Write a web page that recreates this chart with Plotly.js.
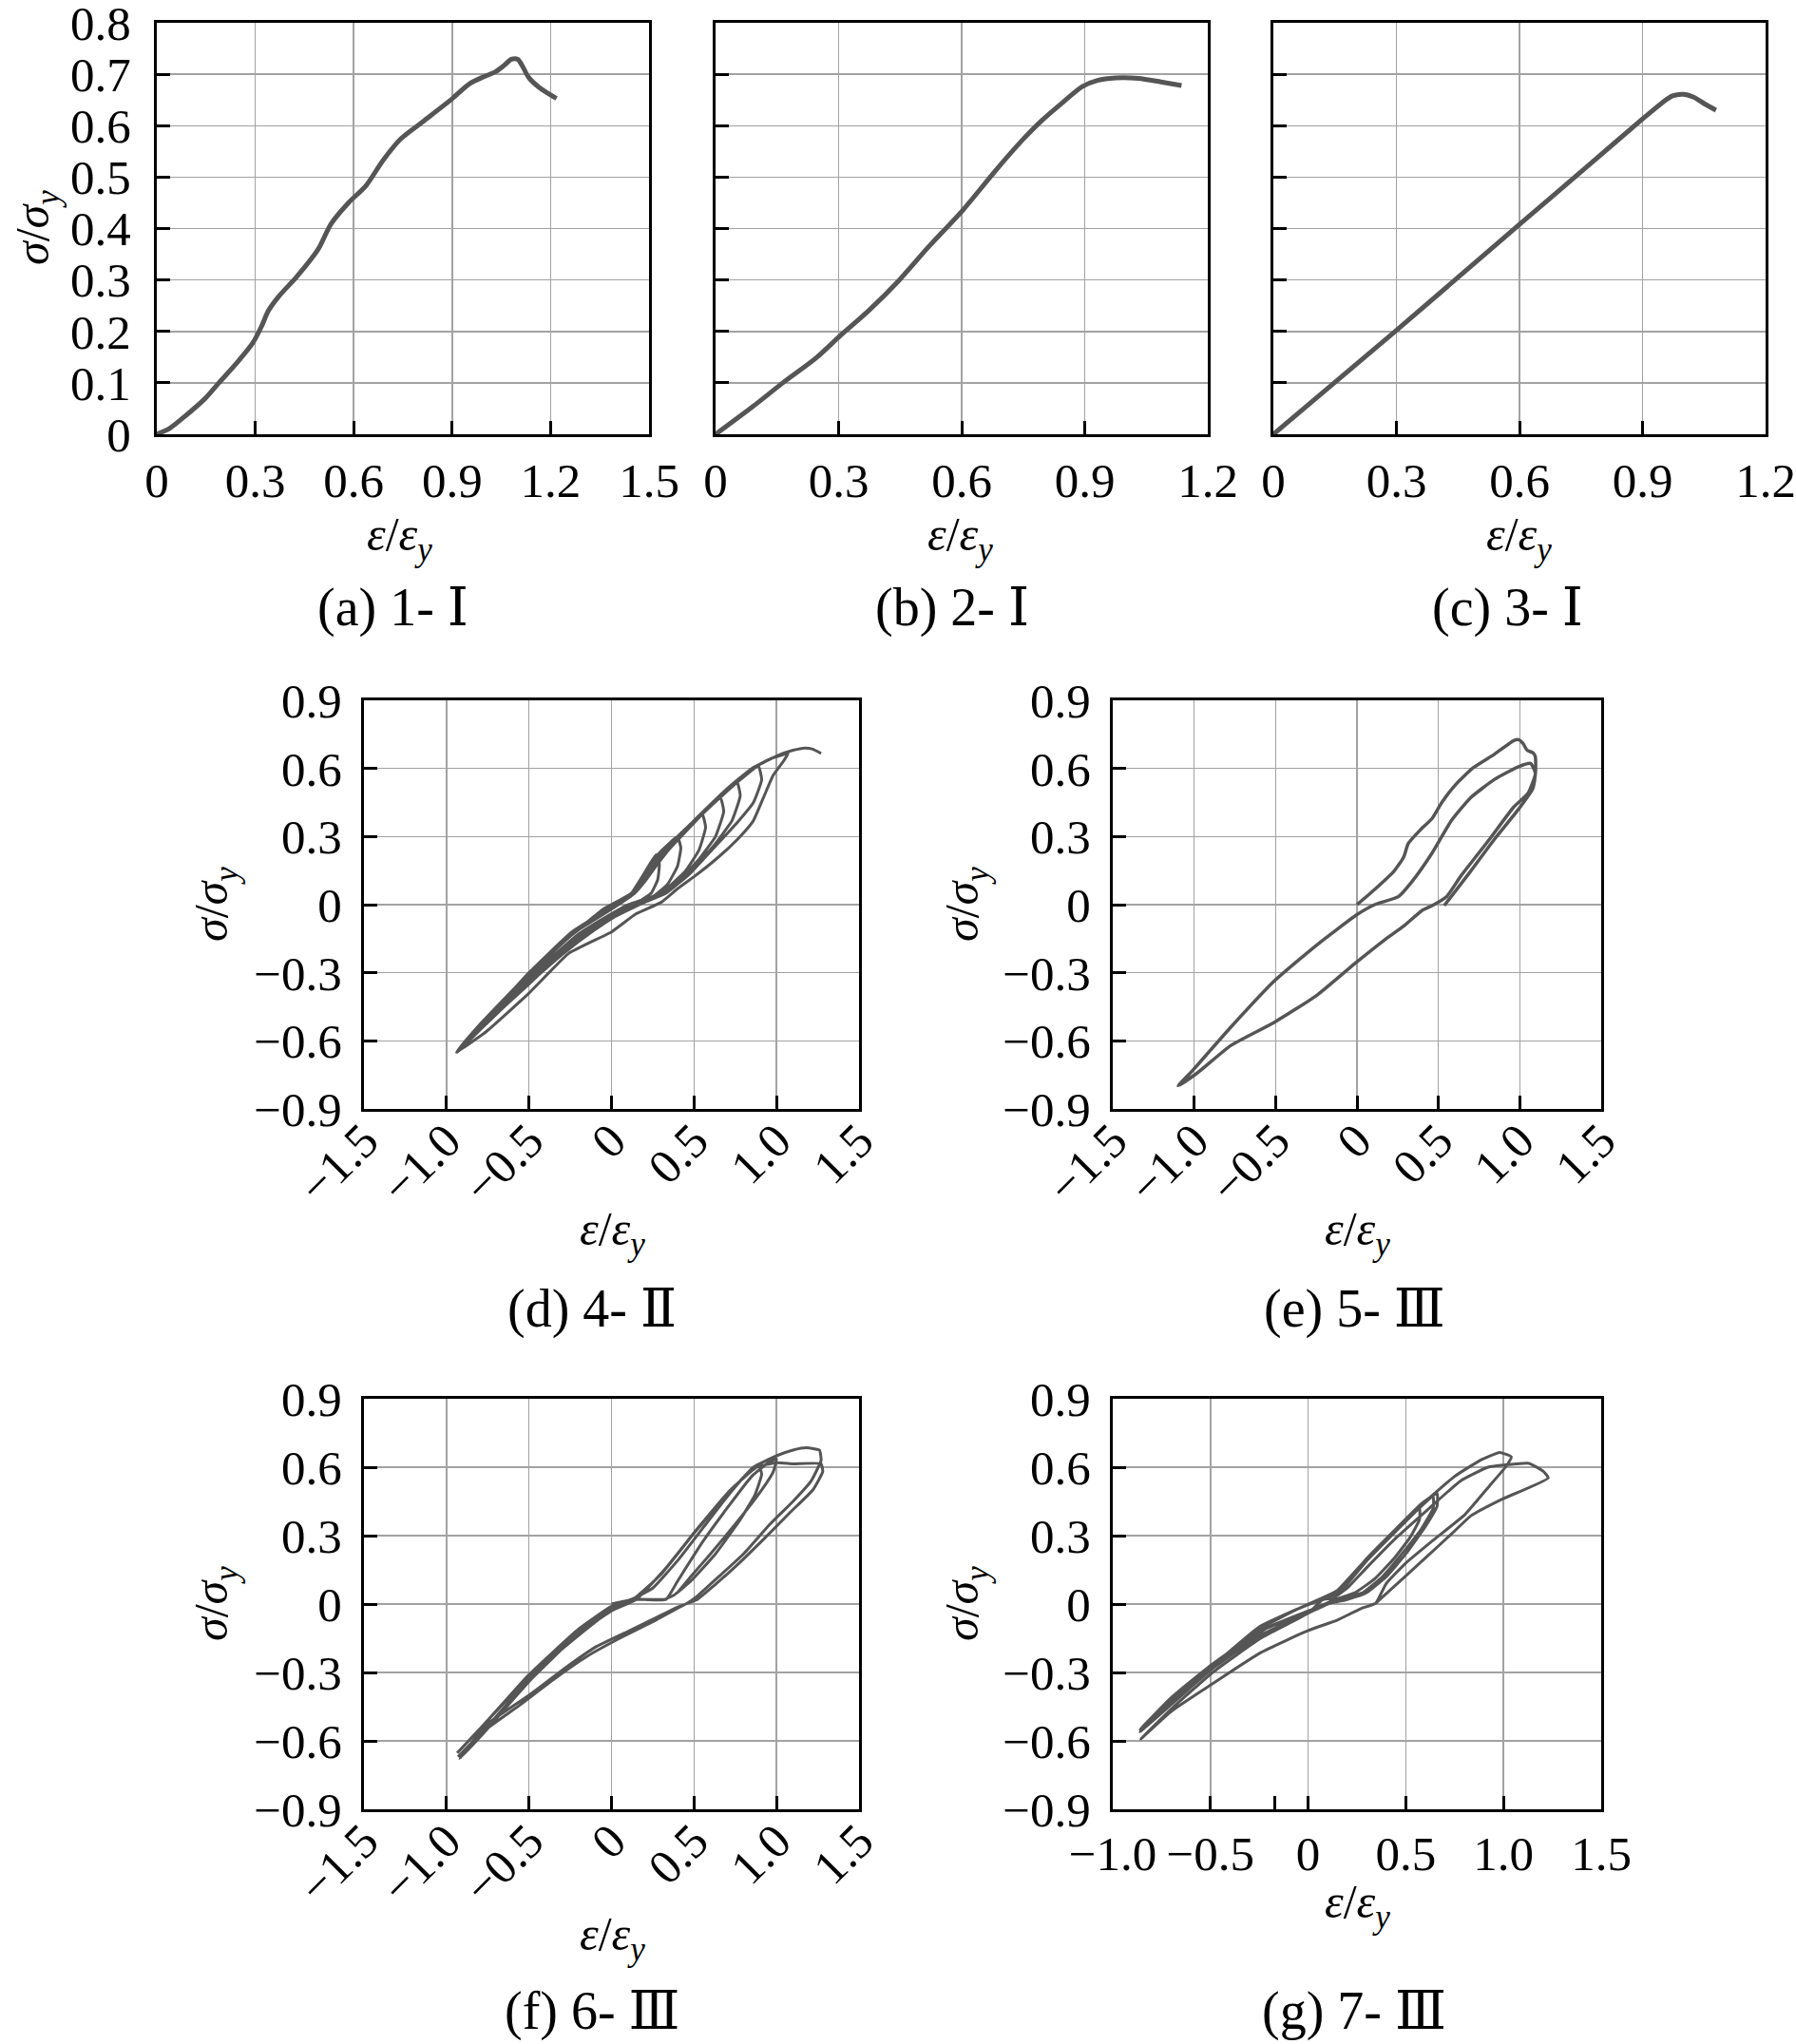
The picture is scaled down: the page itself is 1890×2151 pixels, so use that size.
<!DOCTYPE html>
<html>
<head>
<meta charset="utf-8">
<script src="https://cdn.plot.ly/plotly-3.0.1.min.js"></script>
<style>html,body{margin:0;padding:0;background:#fff;}#chart{width:1890px;height:2151px;}</style>
</head>
<body>
<div id="chart"></div>
<script>
// ---------- data ----------
const a_x = [0, 0.04, 0.082, 0.148, 0.188, 0.240, 0.293, 0.320, 0.340, 0.373, 0.426, 0.492, 0.531, 0.584, 0.637, 0.690, 0.743, 0.809, 0.901, 0.954, 1.000, 1.033, 1.060, 1.080, 1.100, 1.115, 1.133, 1.166, 1.218];
const a_y = [0, 0.012, 0.033, 0.070, 0.099, 0.136, 0.178, 0.211, 0.240, 0.269, 0.306, 0.360, 0.409, 0.450, 0.483, 0.533, 0.574, 0.607, 0.653, 0.682, 0.696, 0.705, 0.718, 0.729, 0.729, 0.715, 0.694, 0.674, 0.653];

const b_x = [0, 0.091, 0.164, 0.246, 0.303, 0.374, 0.447, 0.520, 0.602, 0.684, 0.748, 0.794, 0.849, 0.894, 0.931, 0.976, 1.031, 1.086, 1.136];
const b_y = [0, 0.054, 0.100, 0.149, 0.191, 0.241, 0.299, 0.365, 0.435, 0.514, 0.572, 0.609, 0.647, 0.676, 0.688, 0.693, 0.692, 0.685, 0.678];

const c_x = [0, 0.3, 0.6, 0.770, 0.9, 0.947, 0.973, 1.0, 1.026, 1.052, 1.079];
const c_y = [0, 0.202, 0.408, 0.524, 0.613, 0.644, 0.658, 0.661, 0.655, 0.642, 0.630];

const d_x = [0, 0.05, 0.12, 0.20, 0.27,
  0.29, 0.28, 0.24, 0.18, 0.10, 0.0, -0.2, -0.45, -0.70, -0.93,
  -0.75, -0.50, -0.25, -0.05, 0.10,
  0.15, 0.21, 0.28, 0.35, 0.40,
  0.42, 0.40, 0.34, 0.26, 0.15, 0.0, -0.25, -0.50, -0.75, -0.92,
  -0.72, -0.48, -0.22, 0.0, 0.12,
  0.16, 0.22, 0.30, 0.40, 0.50, 0.55,
  0.57, 0.53, 0.45, 0.35, 0.22, 0.0, -0.25, -0.5, -0.76, -0.93,
  -0.74, -0.5, -0.24, 0.0, 0.12,
  0.17, 0.24, 0.33, 0.45, 0.56, 0.66,
  0.68, 0.63, 0.53, 0.40, 0.28, 0.0, -0.25, -0.5, -0.77, -0.93,
  -0.74, -0.5, -0.24, 0.0, 0.13,
  0.18, 0.26, 0.35, 0.48, 0.62, 0.76,
  0.78, 0.73, 0.62, 0.48, 0.35, 0.25, 0.1, -0.1, -0.3, -0.55, -0.78, -0.935,
  -0.75, -0.5, -0.24, 0.0, 0.14,
  0.20, 0.28, 0.38, 0.51, 0.64, 0.78, 0.89,
  0.91, 0.86, 0.76, 0.62, 0.48, 0.33, 0.2, 0.05, -0.1, -0.3, -0.55, -0.78, -0.935,
  -0.75, -0.5, -0.24, 0.0, 0.15,
  0.22, 0.32, 0.50, 0.70, 0.85, 0.97, 1.07,
  1.04, 0.98, 0.92, 0.86, 0.78, 0.71, 0.60, 0.507, 0.40, 0.30, 0.15, 0.0, -0.26, -0.5, -0.76, -0.94,
  -0.80, -0.55, -0.3, -0.05, 0.12, 0.22, 0.32, 0.50, 0.70, 0.88, 1.0, 1.10, 1.17, 1.22, 1.27];
const d_y = [0, 0.01, 0.05, 0.14, 0.22,
  0.18, 0.11, 0.05, 0.02, 0.0, -0.04, -0.13, -0.29, -0.47, -0.645,
  -0.50, -0.31, -0.14, -0.03, 0.03,
  0.07, 0.14, 0.22, 0.27, 0.30,
  0.25, 0.17, 0.09, 0.04, 0.01, -0.05, -0.17, -0.33, -0.51, -0.64,
  -0.48, -0.30, -0.12, -0.02, 0.04,
  0.08, 0.15, 0.23, 0.30, 0.37, 0.40,
  0.34, 0.24, 0.15, 0.08, 0.02, -0.05, -0.18, -0.34, -0.52, -0.648,
  -0.49, -0.31, -0.13, -0.02, 0.04,
  0.08, 0.16, 0.24, 0.33, 0.41, 0.47,
  0.41, 0.30, 0.20, 0.10, 0.04, -0.06, -0.18, -0.35, -0.53, -0.645,
  -0.49, -0.31, -0.13, -0.02, 0.05,
  0.09, 0.17, 0.25, 0.35, 0.45, 0.54,
  0.48, 0.37, 0.26, 0.15, 0.07, 0.03, -0.02, -0.09, -0.20, -0.37, -0.54, -0.65,
  -0.50, -0.31, -0.13, -0.02, 0.05,
  0.10, 0.18, 0.27, 0.37, 0.46, 0.55, 0.61,
  0.55, 0.45, 0.36, 0.25, 0.14, 0.05, 0.01, -0.04, -0.11, -0.22, -0.38, -0.54, -0.65,
  -0.50, -0.30, -0.12, -0.01, 0.06,
  0.13, 0.22, 0.36, 0.51, 0.60, 0.645, 0.665,
  0.63, 0.57, 0.47, 0.37, 0.30, 0.25, 0.18, 0.127, 0.07, 0.01, -0.04, -0.12, -0.215, -0.39, -0.56, -0.65,
  -0.53, -0.34, -0.17, -0.02, 0.05, 0.14, 0.23, 0.37, 0.51, 0.61, 0.655, 0.68, 0.69, 0.685, 0.666];

const e_x = [0, 0.109, 0.227, 0.286, 0.315, 0.389, 0.462, 0.521, 0.609, 0.712, 0.845, 0.963, 0.992, 1.020, 1.045, 1.080, 1.095,
  1.095, 1.051, 0.963, 0.815, 0.639, 0.551, 0.462, 0.403, 0.286, 0.168, -0.009, -0.244, -0.509, -0.774, -0.980, -1.098,
  -1.01, -0.774, -0.509, -0.244, 0, 0.109, 0.256, 0.344, 0.462, 0.580, 0.698, 0.845, 0.992, 1.066, 1.095,
  1.080, 0.992, 0.845, 0.698, 0.536];
const e_y = [0, 0.067, 0.147, 0.208, 0.269, 0.329, 0.380, 0.450, 0.531, 0.602, 0.663, 0.723, 0.727, 0.710, 0.680, 0.669, 0.653,
  0.572, 0.491, 0.430, 0.289, 0.127, 0.036, -0.004, -0.024, -0.095, -0.156, -0.257, -0.398, -0.519, -0.620, -0.741, -0.798,
  -0.731, -0.539, -0.337, -0.176, -0.044, 0.0, 0.036, 0.107, 0.228, 0.370, 0.471, 0.552, 0.608, 0.622, 0.582,
  0.511, 0.420, 0.289, 0.147, -0.004];

const f_x = [0, 0.12, 0.25, 0.40, 0.55, 0.70, 0.82, 0.89,
  0.91, 0.87, 0.78, 0.63, 0.48, 0.38, 0.32, 0.15, 0.03, -0.17, -0.50, -0.75, -0.935,
  -0.80, -0.50, -0.20, 0.0, 0.13, 0.30, 0.50, 0.68, 0.86, 1.00, 1.10, 1.18, 1.26,
  1.27, 1.21, 1.10, 0.96, 0.80, 0.65, 0.52, 0.45, 0.40, 0.27, 0.10, -0.10, -0.28, -0.50, -0.76, -0.92,
  -0.78, -0.50, -0.20, 0.0, 0.15, 0.32, 0.52, 0.72, 0.88, 1.00, 1.10, 1.27,
  1.28, 1.22, 1.08, 0.93, 0.76, 0.62, 0.52, 0.45, 0.27, 0.05, -0.15, -0.35, -0.55, -0.78, -0.93,
  -0.78, -0.50, -0.20, 0.0, 0.15, 0.33, 0.40, 0.55, 0.70, 0.85, 0.95, 1.00,
  0.98, 0.90, 0.75, 0.60, 0.48, 0.40];
const f_y = [0, 0.02, 0.07, 0.19, 0.33, 0.47, 0.57, 0.61,
  0.57, 0.48, 0.37, 0.22, 0.10, 0.04, 0.02, 0.02, -0.01, -0.12, -0.32, -0.51, -0.653,
  -0.55, -0.31, -0.11, -0.01, 0.02, 0.13, 0.31, 0.46, 0.60, 0.65, 0.675, 0.685, 0.675,
  0.63, 0.54, 0.45, 0.35, 0.22, 0.12, 0.035, 0.0, -0.014, -0.06, -0.12, -0.19, -0.28, -0.40, -0.53, -0.678,
  -0.57, -0.34, -0.13, -0.03, 0.02, 0.15, 0.33, 0.50, 0.60, 0.62, 0.615, 0.615,
  0.58, 0.50, 0.40, 0.29, 0.17, 0.08, 0.02, 0.0, -0.07, -0.15, -0.23, -0.33, -0.44, -0.56, -0.67,
  -0.56, -0.33, -0.12, -0.02, 0.02, 0.02, 0.10, 0.27, 0.42, 0.56, 0.62, 0.636,
  0.58, 0.49, 0.35, 0.22, 0.12, 0.05];

const g_x = [0, 0.08, 0.15, 0.30, 0.45, 0.58, 0.64,
  0.64, 0.58, 0.48, 0.38, 0.28, 0.15, 0.05, -0.10, -0.25, -0.50, -0.70, -0.86,
  -0.70, -0.50, -0.25, -0.05, 0.08, 0.15,
  0.28, 0.42, 0.52, 0.57,
  0.57, 0.52, 0.44, 0.34, 0.24, 0.14, 0.03, -0.20, -0.45, -0.68, -0.855,
  -0.70, -0.50, -0.25, -0.05, 0.09, 0.16,
  0.30, 0.45, 0.58, 0.66,
  0.66, 0.60, 0.50, 0.40, 0.30, 0.20, 0.10, 0.0, -0.25, -0.50, -0.70, -0.86,
  -0.70, -0.50, -0.25, -0.05, 0.10, 0.17,
  0.30, 0.45, 0.60, 0.75, 0.88, 0.98, 1.04,
  1.01, 0.93, 0.80, 0.64, 0.50, 0.40, 0.346, 0.27, 0.15, 0.0, -0.243, -0.489, -0.70, -0.857,
  -0.70, -0.489, -0.243, 0.0, 0.076, 0.125, 0.20, 0.30, 0.45, 0.62, 0.78, 0.92, 1.01, 1.13, 1.204, 1.229,
  0.983, 0.835, 0.737, 0.614, 0.516, 0.346];
const g_y = [0, 0.02, 0.06, 0.19, 0.32, 0.43, 0.47,
  0.42, 0.33, 0.22, 0.12, 0.05, 0.02, -0.02, -0.07, -0.12, -0.27, -0.41, -0.55,
  -0.43, -0.28, -0.10, -0.02, 0.03, 0.06,
  0.18, 0.30, 0.39, 0.42,
  0.37, 0.29, 0.20, 0.11, 0.05, 0.02, -0.02, -0.10, -0.25, -0.41, -0.55,
  -0.43, -0.28, -0.10, -0.02, 0.03, 0.06,
  0.20, 0.33, 0.44, 0.485,
  0.43, 0.34, 0.22, 0.12, 0.05, 0.02, 0.0, -0.04, -0.14, -0.29, -0.43, -0.56,
  -0.44, -0.29, -0.11, -0.02, 0.03, 0.06,
  0.19, 0.32, 0.45, 0.56, 0.63, 0.665, 0.645,
  0.60, 0.52, 0.39, 0.28, 0.18, 0.09, 0.004, -0.02, -0.07, -0.116, -0.213, -0.349, -0.47, -0.592,
  -0.46, -0.30, -0.15, -0.04, 0.02, 0.025, 0.07, 0.16, 0.29, 0.42, 0.54, 0.60, 0.61, 0.617, 0.582, 0.553,
  0.456, 0.388, 0.31, 0.213, 0.136, 0.004];

// tick labels
const top_y_vals = [0, 0.1, 0.2, 0.3, 0.4, 0.5, 0.6, 0.7, 0.8];
const top_y_text = ['0', '0.1', '0.2', '0.3', '0.4', '0.5', '0.6', '0.7', '0.8'];
const a_x_vals = [0, 0.3, 0.6, 0.9, 1.2, 1.5];
const a_x_text = ['0', '0.3', '0.6', '0.9', '1.2', '1.5'];
const bc_x_vals = [0, 0.3, 0.6, 0.9, 1.2];
const bc_x_text = ['0', '0.3', '0.6', '0.9', '1.2'];
const cyc_y_vals = [-0.9, -0.6, -0.3, 0, 0.3, 0.6, 0.9];
const cyc_y_text = ['\u22120.9', '\u22120.6', '\u22120.3', '0', '0.3', '0.6', '0.9'];
const cyc_x_vals = [-1.5, -1.0, -0.5, 0, 0.5, 1.0, 1.5];
const cyc_x_text = ['\u22121.5', '\u22121.0', '\u22120.5', '0', '0.5', '1.0', '1.5'];
const g_x_vals = [-1.0, -0.5, 0, 0.5, 1.0, 1.5];
const g_x_text = ['\u22121.0', '\u22120.5', '0', '0.5', '1.0', '1.5'];
const captions = ['(a) 1- \u2160', '(b) 2- \u2160', '(c) 3- \u2160', '(d) 4- \u2161', '(e) 5- \u2162', '(f) 6- \u2162', '(g) 7- \u2162'];

// ---------- layout helpers ----------
const W = 1890, H = 2151;
const FONT = 'Liberation Serif, Times New Roman, DejaVu Serif, serif';
const LINE = '#555555';
const TICKSZ = 51;
const boxes = {
  a: [165, 683, 24, 457], b: [753, 1271, 24, 457], c: [1340, 1858, 24, 457],
  d: [383, 904, 737, 1167], e: [1171, 1685, 737, 1167],
  f: [383, 904, 1472, 1904], g: [1171, 1685, 1472, 1904]
};
function dx(k) { const b = boxes[k]; return [b[0] / W, b[1] / W]; }
function dy(k) { const b = boxes[k]; return [1 - b[3] / H, 1 - b[2] / H]; }

function axis(domain, anchor, range, vals, text, showlabels, extra) {
  return Object.assign({
    domain: domain, anchor: anchor, range: range,
    tickmode: 'array', tickvals: vals, ticktext: text,
    showticklabels: showlabels, ticklabeloverflow: 'allow',
    ticks: 'inside', ticklen: 14, tickwidth: 3, tickcolor: '#000',
    showline: true, linecolor: '#000', linewidth: 3, mirror: true,
    showgrid: true, gridcolor: '#a2a2a2', gridwidth: 1.5,
    zeroline: false, fixedrange: true,
    tickfont: { family: FONT, size: TICKSZ, color: '#000' }
  }, extra || {});
}

const TOPY = [0, 0.8];
const layout = {
  width: W, height: H, margin: { l: 0, r: 0, t: 0, b: 0 },
  paper_bgcolor: '#fff', plot_bgcolor: '#fff', showlegend: false,
  font: { family: FONT, color: '#000' },
  xaxis: axis(dx('a'), 'y', [0, 1.5], a_x_vals, a_x_text, true, { ticklabelstandoff: 2 }),
  yaxis: axis(dy('a'), 'x', TOPY, top_y_vals, top_y_text, true, { ticklabelstandoff: 14 }),
  xaxis2: axis(dx('b'), 'y2', [0, 1.2], bc_x_vals, bc_x_text, true, { ticklabelstandoff: 2 }),
  yaxis2: axis(dy('b'), 'x2', TOPY, top_y_vals, top_y_text, false),
  xaxis3: axis(dx('c'), 'y3', [0, 1.2], bc_x_vals, bc_x_text, true, { ticklabelstandoff: 2 }),
  yaxis3: axis(dy('c'), 'x3', TOPY, top_y_vals, top_y_text, false),
  xaxis4: axis(dx('d'), 'y4', [-1.5, 1.5], cyc_x_vals, cyc_x_text, true, { tickangle: -45, ticklabelstandoff: -20 }),
  yaxis4: axis(dy('d'), 'x4', [-0.9, 0.9], cyc_y_vals, cyc_y_text, true, { ticklabelstandoff: 10 }),
  xaxis5: axis(dx('e'), 'y5', [-1.5, 1.5], cyc_x_vals, cyc_x_text, true, { tickangle: -45, ticklabelstandoff: -20 }),
  yaxis5: axis(dy('e'), 'x5', [-0.9, 0.9], cyc_y_vals, cyc_y_text, true, { ticklabelstandoff: 10 }),
  xaxis6: axis(dx('f'), 'y6', [-1.5, 1.5], cyc_x_vals, cyc_x_text, true, { tickangle: -45, ticklabelstandoff: -20 }),
  yaxis6: axis(dy('f'), 'x6', [-0.9, 0.9], cyc_y_vals, cyc_y_text, true, { ticklabelstandoff: 10 }),
  xaxis7: axis(dx('g'), 'y7', [-1.0, 1.5], g_x_vals, g_x_text, true, {
    tickangle: 0, ticklabelstandoff: 0,
    minor: { tickmode: 'array', tickvals: [-0.17], ticks: 'inside', ticklen: 14, tickwidth: 3, tickcolor: '#000', showgrid: false }
  }),
  yaxis7: axis(dy('g'), 'x7', [-0.9, 0.9], cyc_y_vals, cyc_y_text, true, { ticklabelstandoff: 10 }),
  annotations: []
};

const YT = '<i>σ</i>/<i>σ</i><sub><i>y</i></sub>';
const XT = '<i>ε</i>/<i>ε</i><sub><i>y</i></sub>';
function ann(text, px, py, size, angle) {
  layout.annotations.push({
    xref: 'paper', yref: 'paper', x: px / W, y: 1 - py / H,
    xanchor: 'center', yanchor: 'middle', showarrow: false,
    text: text, textangle: angle || 0,
    font: { family: FONT, size: size, color: '#000' }
  });
}
// axis titles
const TT = 50;
ann(YT, 38, 240, TT, -90);
ann(XT, 420, 566, TT);
ann(XT, 1010, 566, TT);
ann(XT, 1598, 566, TT);
ann(YT, 226, 952, TT, -90);
ann(XT, 644, 1297, TT);
ann(YT, 1016, 952, TT, -90);
ann(XT, 1428, 1297, TT);
ann(YT, 226, 1688, TT, -90);
ann(XT, 644, 2039, TT);
ann(YT, 1016, 1688, TT, -90);
ann(XT, 1428, 2005, TT);
// captions
ann(captions[0], 413, 640, 56);
ann(captions[1], 1002, 640, 56);
ann(captions[2], 1586, 640, 56);
ann(captions[3], 623, 1377, 56);
ann(captions[4], 1425, 1377, 56);
ann(captions[5], 623, 2116, 56);
ann(captions[6], 1425, 2116, 56);

function tr(x, y, xa, ya, w, sm) {
  return { x: x, y: y, xaxis: xa, yaxis: ya, type: 'scatter', mode: 'lines',
    line: { color: LINE, width: w, shape: 'spline', smoothing: sm }, hoverinfo: 'skip' };
}
const data = [
  tr(a_x, a_y, 'x', 'y', 5, 0.8),
  tr(b_x, b_y, 'x2', 'y2', 5, 0.8),
  tr(c_x, c_y, 'x3', 'y3', 5, 0.8),
  tr(d_x, d_y, 'x4', 'y4', 3, 0.4),
  tr(e_x, e_y, 'x5', 'y5', 3.5, 0.5),
  tr(f_x, f_y, 'x6', 'y6', 3, 0.4),
  tr(g_x, g_y, 'x7', 'y7', 3, 0.4)
];

Plotly.newPlot('chart', data, layout, { staticPlot: true, displayModeBar: false });
</script>
</body>
</html>
